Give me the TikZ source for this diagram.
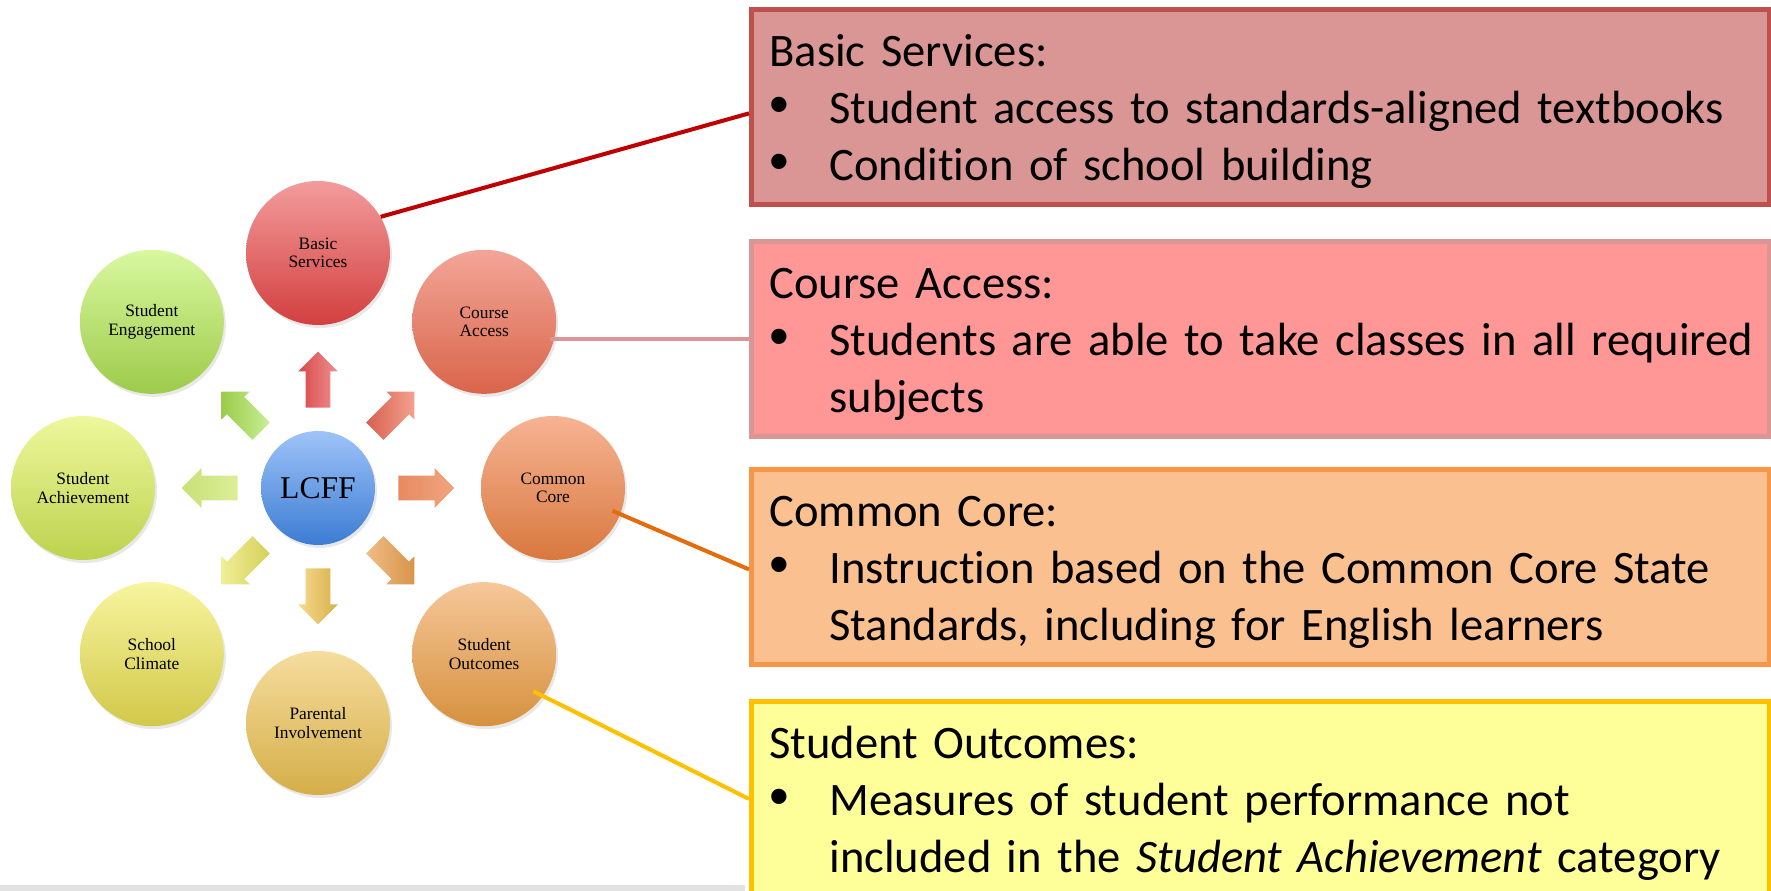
\documentclass[tikz,border=0pt]{standalone}
\usepackage{fontspec}
\setmainfont{Carlito}[Ligatures=NoCommon]
\newfontfamily\petalfont{Liberation Serif}
\newfontfamily\dotfont{Liberation Sans}
\usetikzlibrary{calc,shapes.arrows,shadows}

\definecolor{HubTop}{HTML}{9EC3F8}
\definecolor{HubBot}{HTML}{3C7CD3}
\definecolor{BasicTop}{HTML}{F39C9C}
\definecolor{BasicBot}{HTML}{D33F3F}
\definecolor{CourseTop}{HTML}{F3A598}
\definecolor{CourseBot}{HTML}{D9654A}
\definecolor{CoreTop}{HTML}{F7B393}
\definecolor{CoreBot}{HTML}{D8783E}
\definecolor{OutcomeTop}{HTML}{F6C79A}
\definecolor{OutcomeBot}{HTML}{D6913E}
\definecolor{ParentTop}{HTML}{F6DD9E}
\definecolor{ParentBot}{HTML}{D4AE48}
\definecolor{ClimateTop}{HTML}{F7F59E}
\definecolor{ClimateBot}{HTML}{D2C84A}
\definecolor{AchieveTop}{HTML}{EDF89C}
\definecolor{AchieveBot}{HTML}{BDD24E}
\definecolor{EngageTop}{HTML}{D9F8A0}
\definecolor{EngageBot}{HTML}{9DCB4A}
% arrow tails and tips
\definecolor{RayBasicA}{HTML}{D84848}
\definecolor{RayBasicB}{HTML}{F09090}
\definecolor{RayCourseA}{HTML}{D8604E}
\definecolor{RayCourseB}{HTML}{F4A090}
\definecolor{RayCoreA}{HTML}{E88A60}
\definecolor{RayCoreB}{HTML}{F0A580}
\definecolor{RayOutcomeA}{HTML}{F0BC88}
\definecolor{RayOutcomeB}{HTML}{D89448}
\definecolor{RayParentA}{HTML}{F6DA90}
\definecolor{RayParentB}{HTML}{D6B048}
\definecolor{RayClimateA}{HTML}{F0EE98}
\definecolor{RayClimateB}{HTML}{D4D058}
\definecolor{RayAchieveA}{HTML}{C8E078}
\definecolor{RayAchieveB}{HTML}{DCEE98}
\definecolor{RayEngageA}{HTML}{9CCC48}
\definecolor{RayEngageB}{HTML}{C8EE98}
\definecolor{NoteRedLine}{HTML}{C0504D}
\definecolor{NoteRedFill}{HTML}{D99694}
\definecolor{NotePinkLine}{HTML}{D99694}
\definecolor{NotePinkFill}{HTML}{FF9797}
\definecolor{NoteOrangeLine}{HTML}{F79646}
\definecolor{NoteOrangeFill}{HTML}{FAC090}
\definecolor{NoteGoldLine}{HTML}{FFC000}
\definecolor{NoteGoldFill}{HTML}{FFFF99}
\definecolor{LinkRed}{HTML}{C00000}
\definecolor{LinkPink}{HTML}{D99694}
\definecolor{LinkOrange}{HTML}{E46C0A}
\definecolor{LinkGold}{HTML}{FFC000}
\definecolor{StripGray}{HTML}{E2E2E2}

% bullet, hanging indent and fixed line room for the notes
\newcommand{\bul}{\makebox[1.2cm][l]{\dotfont\fontsize{32}{32}\selectfont •}}
\newcommand{\cont}{\hspace*{1.2cm}}
\newcommand{\headroom}{\rule{0pt}{1.14cm}}
\newcommand{\footroom}{\rule[-0.48cm]{0pt}{0pt}}

\begin{document}
\begin{tikzpicture}[
  font=\petalfont,
  hub/.style={circle, minimum size=2.28cm, inner sep=0pt, top color=HubTop, bottom color=HubBot,
    drop shadow={opacity=0.18, shadow xshift=0.04cm, shadow yshift=-0.06cm},
    font=\petalfont\fontsize{18}{20}\selectfont},
  petal/.style 2 args={circle, minimum size=2.88cm, inner sep=0pt, align=center,
    top color=#1, bottom color=#2,
    drop shadow={opacity=0.18, shadow xshift=0.04cm, shadow yshift=-0.06cm},
    font=\petalfont\fontsize{9.9}{10.5}\selectfont},
  ray/.style 2 args={single arrow, single arrow head extend=0.15cm, minimum height=1.12cm,
    minimum width=0.78cm, inner xsep=0pt, inner ysep=0.24cm, anchor=tail,
    left color=#1, right color=#2},
  note/.style 2 args={draw=#1, fill=#2, line width=2.8pt, anchor=north west,
    text width=19.64cm, inner xsep=0.36cm, inner ysep=0pt, align=left,
    font=\normalfont\fontsize{26.5}{32.4}\selectfont},
  link/.style={line width=2.3pt}
]
\useasboundingbox (0,0) rectangle (35.42,17.82);
\fill[StripGray] (0,0) rectangle (14.9,0.11);

% LCFF and its eight areas
\node[hub] (lcff) at (6.36,8.06) {LCFF};
\node[petal={BasicTop}{BasicBot}] (basic) at ($(lcff)+(90:4.7)$) {Basic\\Services};
\node[petal={CourseTop}{CourseBot}] (course) at ($(lcff)+(45:4.7)$) {Course\\Access};
\node[petal={CoreTop}{CoreBot}] (core) at ($(lcff)+(0:4.7)$) {Common\\Core};
\node[petal={OutcomeTop}{OutcomeBot}] (outcomes) at ($(lcff)+(-45:4.7)$) {Student\\Outcomes};
\node[petal={ParentTop}{ParentBot}] (parental) at ($(lcff)+(-90:4.7)$) {Parental\\Involvement};
\node[petal={ClimateTop}{ClimateBot}] (climate) at ($(lcff)+(-135:4.7)$) {School\\Climate};
\node[petal={AchieveTop}{AchieveBot}] (achieve) at ($(lcff)+(180:4.7)$) {Student\\Achievement};
\node[petal={EngageTop}{EngageBot}] (engage) at ($(lcff)+(135:4.7)$) {Student\\Engagement};

% arrows from the hub
\path (lcff.center) ++(90:1.6) node[ray={RayBasicA}{RayBasicB}, rotate=90] (raybasic) {};
\path (lcff.center) ++(45:1.6) node[ray={RayCourseA}{RayCourseB}, rotate=45] (raycourse) {};
\path (lcff.center) ++(0:1.6) node[ray={RayCoreA}{RayCoreB}, rotate=0] (raycore) {};
\path (lcff.center) ++(-45:1.6) node[ray={RayOutcomeA}{RayOutcomeB}, rotate=-45] (rayoutcomes) {};
\path (lcff.center) ++(-90:1.6) node[ray={RayParentA}{RayParentB}, rotate=-90] (rayparental) {};
\path (lcff.center) ++(-135:1.6) node[ray={RayClimateA}{RayClimateB}, rotate=-135] (rayclimate) {};
\path (lcff.center) ++(180:1.6) node[ray={RayAchieveA}{RayAchieveB}, rotate=180] (rayachieve) {};
\path (lcff.center) ++(135:1.6) node[ray={RayEngageA}{RayEngageB}, rotate=135] (rayengage) {};

% notes on the right
\node[note={NoteRedLine}{NoteRedFill}] (basicnote) at (14.98,17.68)
  {\headroom Basic Services:\\
   \bul\mbox{Student access to standards-aligned textbooks}\\
   \bul\mbox{Condition of school building}\footroom};
\node[note={NotePinkLine}{NotePinkFill}] (coursenote) at (14.98,13.04)
  {\headroom Course Access:\\
   \bul\mbox{Students are able to take classes in all required}\\
   \cont\mbox{subjects}\footroom};
\node[note={NoteOrangeLine}{NoteOrangeFill}] (corenote) at (14.98,8.48)
  {\headroom Common Core:\\
   \bul\mbox{Instruction based on the Common Core State}\\
   \cont\mbox{Standards, including for English learners}\footroom};
\node[note={NoteGoldLine}{NoteGoldFill}] (outcomenote) at (14.98,3.84)
  {\headroom Student Outcomes:\\
   \bul\mbox{Measures of student performance not}\\
   \cont\mbox{included in the \textit{Student Achievement} category}\footroom};

% callout lines
\draw[link, draw=LinkRed] (basic.30) -- ([yshift=-0.13cm]basicnote.west);
\draw[link, draw=LinkPink] ([xshift=-0.14cm]coursenote.west -| course.east) -- (coursenote.west);
\draw[link, draw=LinkOrange] ($(core)!0.88!(core.-21)$) -- ([yshift=-0.05cm]corenote.west);
\draw[link, draw=LinkGold] ($(outcomes)!0.85!(outcomes.-37)$) -- (outcomenote.west);

\end{tikzpicture}
\end{document}
